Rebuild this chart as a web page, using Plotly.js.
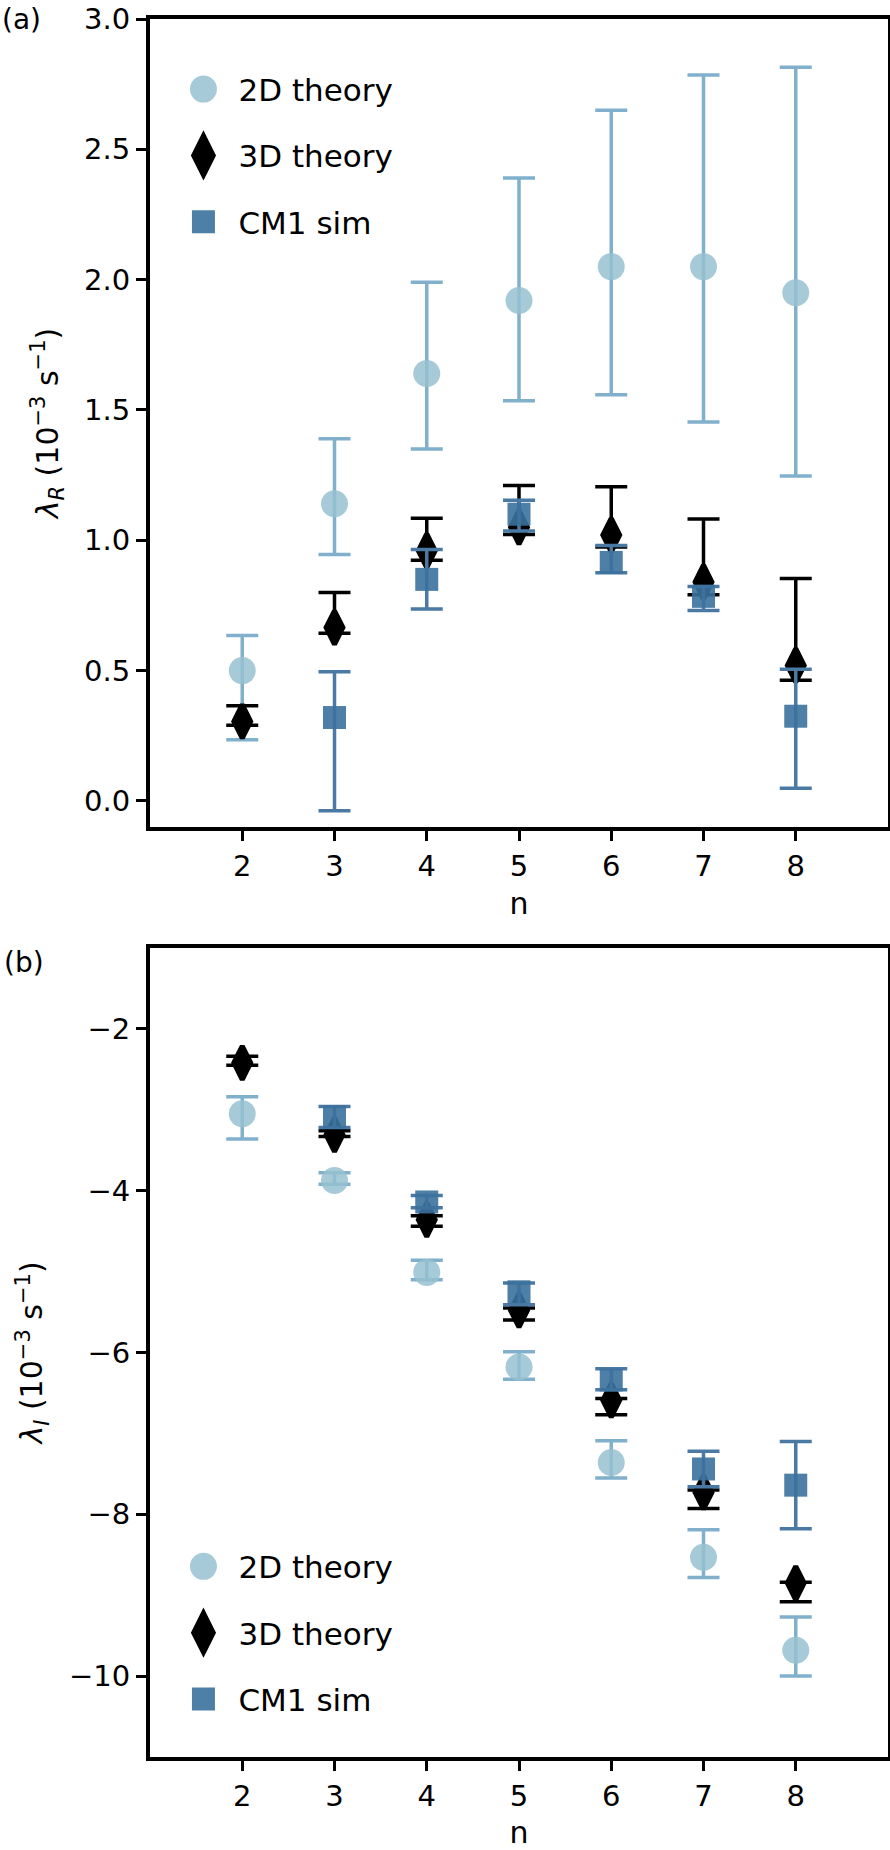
<!DOCTYPE html>
<html>
<head>
<meta charset="utf-8">
<script src="https://cdn.plot.ly/plotly-3.0.1.min.js"></script>
<style>
  html, body { margin: 0; padding: 0; background: #fff; }
  #chart { width: 890px; height: 1850px; }
</style>
</head>
<body>
<div id="chart"></div>
<script>
// growth rates vs wavenumber n, panel (a) real part, panel (b) imaginary part

const n = [2, 3, 4, 5, 6, 7, 8];

// (a) lambda_R, 1e-3 s^-1
const r2d   = [0.50, 1.14, 1.64, 1.92, 2.05, 2.05, 1.95];
const r2dHi = [0.635, 1.39, 1.99, 2.39, 2.65, 2.785, 2.815];
const r2dLo = [0.235, 0.945, 1.35, 1.535, 1.558, 1.454, 1.247];

const r3d   = [0.305, 0.665, 0.96, 1.05, 1.02, 0.84, 0.52];
const r3dHi = [0.365, 0.80, 1.085, 1.21, 1.205, 1.082, 0.853];
const r3dLo = [0.29, 0.643, 0.923, 1.022, 0.974, 0.791, 0.463];

const rSim   = [null, 0.32, 0.85, 1.10, 0.915, 0.785, 0.325];
const rSimHi = [null, 0.496, 0.965, 1.154, 0.98, 0.823, 0.505];
const rSimLo = [null, -0.038, 0.736, 1.036, 0.875, 0.731, 0.049];

// (b) lambda_I, 1e-3 s^-1
const i2d   = [-3.05, -3.875, -5.01, -6.18, -7.36, -8.53, -9.68];
const i2dHi = [-2.84, -3.78, -4.86, -5.99, -7.09, -8.19, -9.27];
const i2dLo = [-3.36, -3.92, -5.10, -6.33, -7.55, -8.78, -10.0];

const i3d   = [-2.42, -3.31, -4.36, -5.48, -6.59, -7.73, -8.85];
const i3dHi = [-2.34, -3.26, -4.31, -5.45, -6.57, -7.70, -8.84];
const i3dLo = [-2.45, -3.33, -4.44, -5.60, -6.77, -7.93, -9.08];

const iSim   = [null, -3.09, -4.14, -5.25, -6.34, -7.44, -7.64];
const iSimHi = [null, -2.96, -4.06, -5.14, -6.20, -7.22, -7.10];
const iSimLo = [null, -3.22, -4.21, -5.41, -6.46, -7.66, -8.18];

const FONT = 'DejaVu Sans, sans-serif';

const styles = {
  th2: {name: '2D theory', symbol: 'circle', size: 27, color: '#96c1d1', opacity: 0.85, err: '#80b0cb', lw: 0},
  th3: {name: '3D theory', symbol: 'diamond-tall', size: 24, color: '#000000', opacity: 1, err: '#000000', lw: 5},
  sim: {name: 'CM1 sim', symbol: 'square', size: 23, color: '#3b719c', opacity: 0.9, err: '#4a7aa3', lw: 0}
};

function errTrace(key, y, hi, lo, xa, ya, legend){
  const s = styles[key];
  return {
    x: n, y: y, xaxis: xa, yaxis: ya,
    type: 'scatter', mode: 'markers',
    name: s.name, legend: legend, legendgroup: legend + key,
    marker: {symbol: s.symbol, size: s.size, color: s.color, opacity: s.opacity,
             line: {width: s.lw, color: s.color}},
    error_y: {
      type: 'data', symmetric: false,
      array: y.map((v, i) => v === null ? null : hi[i] - v),
      arrayminus: y.map((v, i) => v === null ? null : v - lo[i]),
      color: s.err, thickness: 3.5, width: 16
    },
    hoverinfo: 'x+y'
  };
}

const traces = [
  errTrace('th2', r2d, r2dHi, r2dLo, 'x', 'y', 'legend'),
  errTrace('th3', r3d, r3dHi, r3dLo, 'x', 'y', 'legend'),
  errTrace('sim', rSim, rSimHi, rSimLo, 'x', 'y', 'legend'),
  errTrace('th2', i2d, i2dHi, i2dLo, 'x2', 'y2', 'legend2'),
  errTrace('th3', i3d, i3dHi, i3dLo, 'x2', 'y2', 'legend2'),
  errTrace('sim', iSim, iSimHi, iSimLo, 'x2', 'y2', 'legend2')
];

const axisBase = {
  showline: true, mirror: true, linecolor: '#000', linewidth: 4,
  ticks: 'outside', ticklen: 10, tickwidth: 3, tickcolor: '#000',
  showgrid: false, zeroline: false,
  tickfont: {family: FONT, size: 29, color: '#000'}
};

const xTicks = {tickvals: n, ticktext: n.map(String), range: [1, 9]};

const legendBase = {
  font: {family: FONT, size: 31, color: '#000'},
  bgcolor: 'rgba(0,0,0,0)', borderwidth: 0,
  xanchor: 'left',
  itemsizing: 'trace', itemwidth: 60, tracegroupgap: 23,
  traceorder: 'grouped'
};

const layout = {
  width: 890, height: 1850,
  margin: {l: 150, r: 2, t: 19, b: 93},
  paper_bgcolor: '#fff', plot_bgcolor: '#fff',
  font: {family: FONT, color: '#000'},
  showlegend: true,
  xaxis: Object.assign({}, axisBase, xTicks, {
    anchor: 'y', domain: [0, 1],
    title: {text: 'n', font: {family: FONT, size: 30}, standoff: 12}
  }),
  yaxis: Object.assign({}, axisBase, {
    anchor: 'x', domain: [0.5351, 1], range: [-0.1, 3.0],
    tickvals: [0, 0.5, 1, 1.5, 2, 2.5, 3], tickformat: '.1f',
    title: {text: '<i>λ</i><sub><i>R</i></sub> (10<sup>−3</sup> s<sup>−1</sup>)', font: {family: FONT, size: 30}, standoff: 18}
  }),
  xaxis2: Object.assign({}, axisBase, xTicks, {
    anchor: 'y2', domain: [0, 1],
    title: {text: 'n', font: {family: FONT, size: 30}, standoff: 12}
  }),
  yaxis2: Object.assign({}, axisBase, {
    anchor: 'x2', domain: [0, 0.4655], range: [-11, -1],
    tickvals: [-10, -8, -6, -4, -2],
    title: {text: '<i>λ</i><sub><i>I</i></sub> (10<sup>−3</sup> s<sup>−1</sup>)', font: {family: FONT, size: 30}, standoff: 18}
  }),
  legend: Object.assign({}, legendBase, {x: 0.025, y: 0.975, yanchor: 'top'}),
  legend2: Object.assign({}, legendBase, {x: 0.025, y: 0.018, yanchor: 'bottom'}),
  annotations: [
    {text: '(a)', xref: 'paper', yref: 'paper', x: 0, y: 1, xshift: -150,
     xanchor: 'left', yanchor: 'middle', showarrow: false,
     font: {family: FONT, size: 28, color: '#000'}},
    {text: '(b)', xref: 'paper', yref: 'paper', x: 0, y: 0.4574, xshift: -148,
     xanchor: 'left', yanchor: 'middle', showarrow: false,
     font: {family: FONT, size: 28, color: '#000'}}
  ]
};

// plotly caps legend symbols at 16px, blow them back up to the marker size
function growLegendSymbols(gd){
  gd.querySelectorAll('g.legend .traces, g.legend2 .traces').forEach(g => {
    const d = g.__data__;
    if(!d || !d[0] || !d[0].trace) return;
    const k = d[0].trace.marker.size / 16;
    g.querySelectorAll('path.scatterpts').forEach(p => {
      const t = p.getAttribute('transform') || '';
      p.setAttribute('transform', t + ' scale(' + k.toFixed(3) + ')');
    });
  });
}

Plotly.newPlot('chart', traces, layout, {displayModeBar: false, staticPlot: true})
  .then(gd => growLegendSymbols(gd));
</script>
</body>
</html>
